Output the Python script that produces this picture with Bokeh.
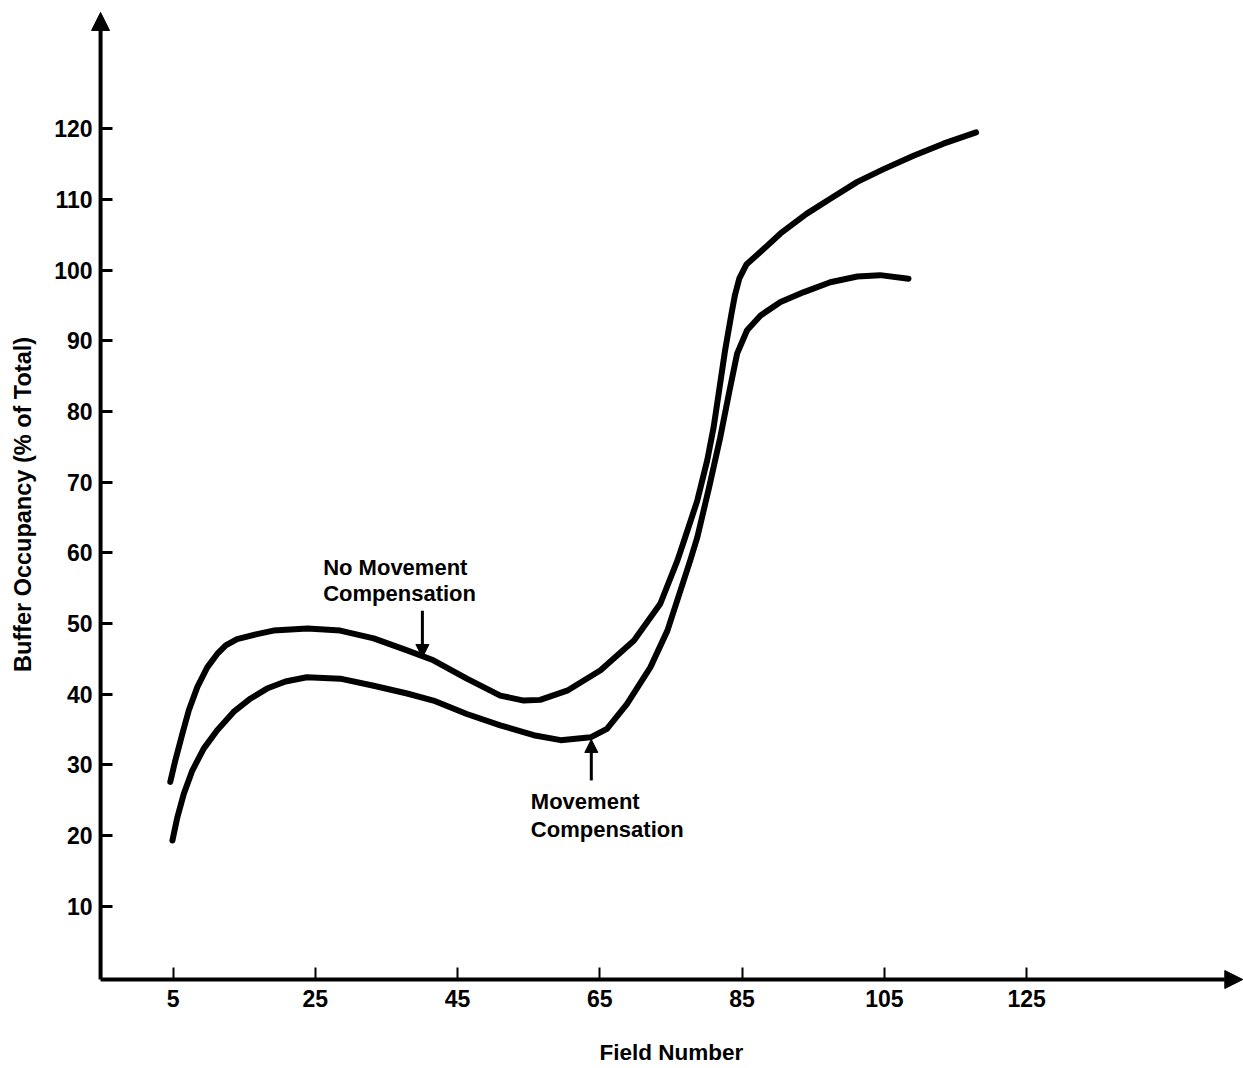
from bokeh.plotting import figure
from bokeh.models import Arrow, NormalHead, Label, Range1d, FixedTicker
from bokeh.embed import file_html
from bokeh.resources import INLINE

# ---- data ----
x_no_comp = [4.6, 5.3, 6.3, 7.2, 8.4, 9.8, 11.2, 12.4, 14.0, 16.8, 19.1, 23.9, 28.5, 33.2,
             37.9, 41.6, 46.3, 51.0, 54.3, 56.6, 60.4, 65.1, 69.8, 73.5, 75.9, 77.0, 78.7,
             80.1, 81.0, 81.7, 82.6, 83.5, 84.0, 84.6, 85.6, 87.6, 90.4, 94.1, 97.4, 101.2,
             104.9, 109.1, 113.3, 117.9]
y_no_comp = [27.6, 30.6, 34.4, 37.7, 41.0, 43.8, 45.7, 46.9, 47.8, 48.5, 49.0, 49.3, 49.0, 47.9,
             46.2, 44.8, 42.2, 39.8, 39.1, 39.2, 40.5, 43.4, 47.6, 52.8, 58.9, 62.2, 67.4,
             73.1, 77.8, 82.5, 88.6, 93.8, 96.5, 98.8, 100.8, 102.6, 105.2, 108.0, 110.1, 112.5,
             114.3, 116.2, 117.9, 119.5]

x_comp = [4.9, 5.6, 6.5, 7.7, 9.3, 11.2, 13.5, 15.9, 18.2, 20.8, 23.8, 28.5, 33.2, 37.9,
          41.6, 46.3, 51.0, 55.7, 59.5, 63.7, 66.0, 68.8, 72.1, 74.5, 77.7, 78.7, 80.3,
          81.9, 83.2, 84.3, 85.7, 87.6, 90.4, 93.7, 97.4, 101.2, 104.4, 108.4]
y_comp = [19.3, 22.6, 25.9, 29.2, 32.3, 34.9, 37.5, 39.4, 40.8, 41.8, 42.4, 42.2, 41.2, 40.1,
          39.1, 37.2, 35.6, 34.2, 33.5, 33.9, 35.1, 38.6, 43.8, 49.0, 58.9, 62.2, 69.0,
          76.2, 82.8, 88.2, 91.5, 93.6, 95.5, 96.9, 98.3, 99.1, 99.3, 98.8]

x_ticks = [5, 25, 45, 65, 85, 105, 125]
y_ticks = [10, 20, 30, 40, 50, 60, 70, 80, 90, 100, 110, 120]

# where the two drawn axes sit / end (data units)
AX_X, AX_Y = -5.2, -0.37
X_END, Y_END = 155.4, 136.47

FONT = "Liberation Sans"

p = figure(width=1243, height=1068, output_backend="svg", toolbar_location=None,
           x_range=Range1d(-19.27, 155.5), y_range=Range1d(-12.96, 138.16),
           min_border_left=0, min_border_right=0, min_border_top=0, min_border_bottom=0)
p.outline_line_color = None
p.xgrid.visible = False
p.ygrid.visible = False

# axes, drawn at fixed data locations
p.xaxis.ticker = FixedTicker(ticks=x_ticks)
p.yaxis.ticker = FixedTicker(ticks=y_ticks)
p.xaxis.fixed_location = AX_Y
p.yaxis.fixed_location = AX_X
p.xaxis.bounds = (AX_X, X_END)
p.yaxis.bounds = (AX_Y, 134.0)
for ax in (p.xaxis[0], p.yaxis[0]):
    ax.axis_line_color = None
    ax.major_tick_out = 0
    ax.minor_tick_line_color = None
    ax.major_tick_line_color = "black"
    ax.major_label_text_font = FONT
    ax.major_label_text_font_style = "bold"
    ax.major_label_text_font_size = "23px"
    ax.major_label_text_color = "black"
    ax.axis_label_text_font = FONT
    ax.axis_label_text_font_style = "bold"
    ax.axis_label_text_color = "black"

p.yaxis.major_tick_in = 12
p.yaxis.major_tick_line_width = 3
p.yaxis.major_label_standoff = 8
p.yaxis.axis_label = "Buffer Occupancy (% of Total)"
p.yaxis.axis_label_text_font_size = "23.5px"
p.yaxis.axis_label_standoff = 15

p.xaxis.major_tick_in = 12
p.xaxis.major_tick_line_width = 2
p.xaxis.major_label_standoff = 10
p.xaxis.axis_label = "Field Number"
p.xaxis.axis_label_text_font_size = "22.5px"
p.xaxis.axis_label_standoff = 30

# axis lines with arrow heads
p.add_layout(Arrow(x_start=AX_X, y_start=AX_Y, x_end=AX_X, y_end=Y_END, line_width=4,
                   line_color="black",
                   end=NormalHead(size=18, fill_color="black", line_color="black")))
p.add_layout(Arrow(x_start=AX_X, y_start=AX_Y, x_end=X_END, y_end=AX_Y, line_width=4,
                   line_color="black",
                   end=NormalHead(size=18, fill_color="black", line_color="black")))

# curves
p.line(x_no_comp, y_no_comp, line_width=6, line_color="black",
       line_cap="round", line_join="round")
p.line(x_comp, y_comp, line_width=6, line_color="black",
       line_cap="round", line_join="round")

# annotations
def lab(x, y, t):
    p.add_layout(Label(x=x, y=y, text=t, text_font=FONT, text_font_style="bold",
                       text_font_size="22px", text_color="black",
                       text_baseline="middle", text_align="left"))

lab(26.1, 58.0, "No Movement")
lab(26.1, 54.3, "Compensation")
lab(55.3, 24.75, "Movement")
lab(55.3, 20.9, "Compensation")

p.add_layout(Arrow(x_start=40.05, y_start=51.8, x_end=40.05, y_end=45.2, line_width=3,
                   line_color="black",
                   end=NormalHead(size=13, fill_color="black", line_color="black")))
p.add_layout(Arrow(x_start=63.8, y_start=27.8, x_end=63.8, y_end=33.6, line_width=3,
                   line_color="black",
                   end=NormalHead(size=13, fill_color="black", line_color="black")))

open("out.html", "w").write(file_html(p, INLINE))
